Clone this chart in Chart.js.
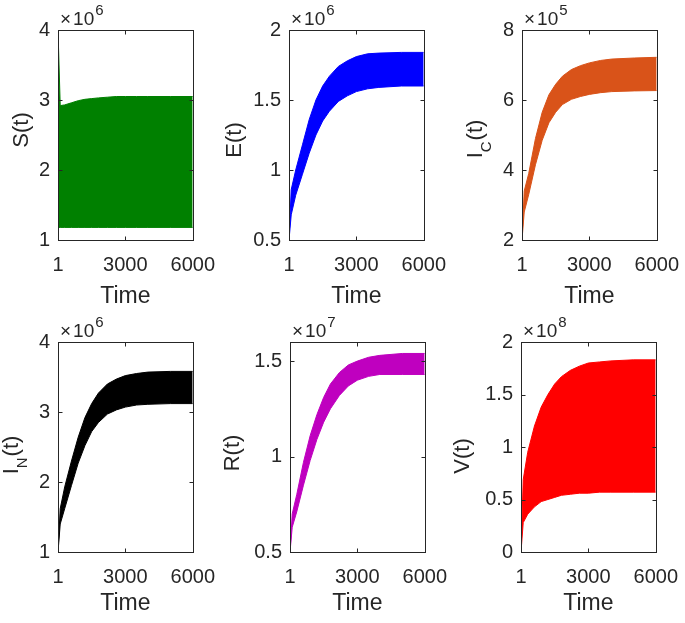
<!DOCTYPE html>
<html>
<head>
<meta charset="utf-8">
<script src="https://cdn.jsdelivr.net/npm/chart.js@4.4.1/dist/chart.umd.min.js"></script>
<style>
body { margin: 0; background: #fff; width: 685px; height: 623px; overflow: hidden; position: relative; }
canvas { position: absolute; }
</style>
</head>
<body>
<canvas id="cS" width="250" height="310" style="left:-22px;top:0px"></canvas>
<canvas id="cE" width="250" height="310" style="left:209px;top:0px"></canvas>
<canvas id="cIc" width="250" height="310" style="left:442px;top:0px"></canvas>
<canvas id="cIn" width="250" height="310" style="left:-22px;top:312px"></canvas>
<canvas id="cR" width="250" height="310" style="left:210px;top:312px"></canvas>
<canvas id="cV" width="250" height="310" style="left:441px;top:312px"></canvas>
<script>
// time samples and tick labels
var time = [1, 100, 300, 600, 900, 1200, 1500, 1800, 2200, 2600, 3000, 3500, 4000, 5000, 6000];
var xTicks = [1, 3000, 6000];

// envelopes of the oscillating solutions (top / bottom of each band), axis units
var sUpper = [4, 2.92, 2.93, 2.96, 2.99, 3.01, 3.02, 3.03, 3.04, 3.05, 3.05, 3.05, 3.05, 3.05, 3.05];
var sLower = [1.18, 1.18, 1.18, 1.18, 1.18, 1.18, 1.18, 1.18, 1.18, 1.18, 1.18, 1.18, 1.18, 1.18, 1.18];
var eUpper = [0.5, 0.86, 1.0, 1.18, 1.36, 1.5, 1.6, 1.67, 1.74, 1.78, 1.81, 1.83, 1.835, 1.84, 1.84];
var eLower = [0.5, 0.68, 0.82, 0.97, 1.12, 1.25, 1.35, 1.42, 1.49, 1.53, 1.56, 1.58, 1.59, 1.6, 1.6];
var icUpper = [2, 3.4, 3.9, 4.9, 5.65, 6.15, 6.45, 6.68, 6.87, 6.98, 7.06, 7.13, 7.17, 7.2, 7.22];
var icLower = [2, 2.8, 3.3, 4.15, 4.85, 5.35, 5.65, 5.87, 6.02, 6.1, 6.16, 6.21, 6.24, 6.26, 6.27];
var inUpper = [1, 1.62, 1.93, 2.3, 2.64, 2.92, 3.12, 3.27, 3.4, 3.47, 3.52, 3.55, 3.57, 3.58, 3.58];
var inLower = [1, 1.4, 1.62, 1.95, 2.27, 2.52, 2.72, 2.85, 2.97, 3.03, 3.07, 3.1, 3.11, 3.12, 3.12];
var rUpper = [0.5, 0.7, 0.8, 0.97, 1.11, 1.22, 1.31, 1.38, 1.44, 1.48, 1.5, 1.52, 1.53, 1.54, 1.54];
var rLower = [0.5, 0.63, 0.71, 0.85, 0.98, 1.09, 1.18, 1.25, 1.32, 1.37, 1.4, 1.42, 1.43, 1.43, 1.43];
var vUpper = [0, 0.69, 0.95, 1.2, 1.38, 1.5, 1.6, 1.67, 1.73, 1.77, 1.8, 1.81, 1.82, 1.83, 1.83];
var vLower = [0, 0.28, 0.36, 0.43, 0.48, 0.5, 0.52, 0.54, 0.55, 0.56, 0.56, 0.57, 0.57, 0.57, 0.57];

// y ticks per panel
var sTicks = [1, 2, 3, 4];
var eTicks = [0.5, 1, 1.5, 2];
var icTicks = [2, 4, 6, 8];
var inTicks = [1, 2, 3, 4];
var rTicks = [0.5, 1, 1.5];
var vTicks = [0, 0.5, 1, 1.5, 2];

var FONT = '"Liberation Sans", Arial, Helvetica, sans-serif';
var AXC = '#262626';

var panels = [
    { id: 'cS', name: 'S', sub: '', exp: '6', color: '#008000', up: sUpper, lo: sLower, ticks: sTicks, min: 1, max: 4, lx: 50, dy: -5, tpad: 0 },
    { id: 'cE', name: 'E', sub: '', exp: '6', color: '#0000FF', up: eUpper, lo: eLower, ticks: eTicks, min: 0.5, max: 2, lx: 32, dy: 5, tpad: 0 },
    { id: 'cIc', name: 'I', sub: 'C', exp: '5', color: '#D95319', up: icUpper, lo: icLower, ticks: icTicks, min: 2, max: 8, lx: 40, dy: 4, tpad: 0 },
    { id: 'cIn', name: 'I', sub: 'N', exp: '6', color: '#000000', up: inUpper, lo: inLower, ticks: inTicks, min: 1, max: 4, lx: 40, dy: 8, tpad: 5 },
    { id: 'cR', name: 'R', sub: '', exp: '7', color: '#BF00BF', up: rUpper, lo: rLower, ticks: rTicks, min: 0.5, max: 1.6, lx: 29, dy: 6, tpad: 5 },
    { id: 'cV', name: 'V', sub: '', exp: '8', color: '#FF0000', up: vUpper, lo: vLower, ticks: vTicks, min: 0, max: 2, lx: 28, dy: 9, tpad: 5 }
];

// box, inward ticks, exponent and y label (MATLAB look)
var matlabAxes = {
    id: 'matlabAxes',
    afterDatasetsDraw: function (chart) {
        var p = chart.options.plugins.matlabAxes;
        var ctx = chart.ctx, a = chart.chartArea;
        var xs = chart.scales.x, ys = chart.scales.y;
        ctx.save();
        ctx.strokeStyle = AXC;
        ctx.lineWidth = 1;
        var l = Math.round(a.left) + 0.5, r = Math.round(a.right) + 0.5;
        var t = Math.round(a.top) + 0.5, b = Math.round(a.bottom) + 0.5;
        ctx.strokeRect(l, t, r - l, b - t);
        ctx.beginPath();
        xs.ticks.forEach(function (tk) {
            var px = Math.round(xs.getPixelForValue(tk.value)) + 0.5;
            ctx.moveTo(px, b); ctx.lineTo(px, b - 4);
            ctx.moveTo(px, t); ctx.lineTo(px, t + 4);
        });
        ys.ticks.forEach(function (tk) {
            var py = Math.round(ys.getPixelForValue(tk.value)) + 0.5;
            ctx.moveTo(l, py); ctx.lineTo(l + 4, py);
            ctx.moveTo(r, py); ctx.lineTo(r - 4, py);
        });
        ctx.stroke();

        // x10^n
        ctx.fillStyle = AXC;
        ctx.textBaseline = 'alphabetic';
        ctx.textAlign = 'left';
        ctx.font = '19px ' + FONT;
        ctx.fillText('\u00d7', a.left + 2, a.top - 5);
        var wx = ctx.measureText('\u00d7').width;
        ctx.fillText('10', a.left + 4 + wx, a.top - 5);
        var w10 = ctx.measureText('10').width;
        ctx.font = '15px ' + FONT;
        ctx.fillText(p.exp, a.left + 5 + wx + w10, a.top - 15);

        // y label with optional subscript
        ctx.translate(p.lx, (a.top + a.bottom) / 2 + p.dy);
        ctx.rotate(-Math.PI / 2);
        ctx.font = '22px ' + FONT;
        var w1 = ctx.measureText(p.name).width;
        var w3 = ctx.measureText('(t)').width;
        ctx.font = '15px ' + FONT;
        var w2 = p.sub ? ctx.measureText(p.sub).width + 1 : 0;
        var x0 = -(w1 + w2 + w3) / 2;
        ctx.font = '22px ' + FONT;
        ctx.fillText(p.name, x0, 0);
        if (p.sub) {
            ctx.font = '15px ' + FONT;
            ctx.fillText(p.sub, x0 + w1, 9);
            ctx.font = '22px ' + FONT;
        }
        ctx.fillText('(t)', x0 + w1 + w2, 0);
        ctx.restore();
    }
};

function pts(ys) {
    return time.map(function (t, i) { return { x: t, y: ys[i] }; });
}

panels.forEach(function (p) {
    var ctx = document.getElementById(p.id).getContext('2d');
    new Chart(ctx, {
        type: 'line',
        data: {
            datasets: [{
                data: pts(p.up),
                borderColor: p.color,
                backgroundColor: p.color,
                borderWidth: 1,
                pointRadius: 0,
                fill: '+1'
            }, {
                data: pts(p.lo),
                borderColor: p.color,
                backgroundColor: p.color,
                borderWidth: 1,
                pointRadius: 0,
                fill: false
            }]
        },
        options: {
            responsive: false,
            animation: false,
            devicePixelRatio: 1,
            layout: { padding: { left: 0, top: 30, right: 31, bottom: 0 } },
            plugins: {
                legend: { display: false },
                tooltip: { enabled: false },
                matlabAxes: { exp: p.exp, name: p.name, sub: p.sub, lx: p.lx, dy: p.dy }
            },
            scales: {
                x: {
                    type: 'linear',
                    min: 1,
                    max: 6000,
                    grid: { display: false, drawTicks: false },
                    border: { display: false },
                    afterBuildTicks: function (s) { s.ticks = xTicks.map(function (v) { return { value: v }; }); },
                    afterFit: function (s) { s.height = 70; },
                    ticks: {
                        padding: 13,
                        maxRotation: 0,
                        color: AXC,
                        font: { family: FONT, size: 20 },
                        callback: function (v) { return String(v); }
                    },
                    title: {
                        display: true,
                        text: 'Time',
                        color: AXC,
                        font: { family: FONT, size: 23 },
                        padding: { top: 0, bottom: p.tpad }
                    }
                },
                y: {
                    min: p.min,
                    max: p.max,
                    grid: { display: false, drawTicks: false },
                    border: { display: false },
                    afterBuildTicks: function (s) { s.ticks = p.ticks.map(function (v) { return { value: v }; }); },
                    afterFit: function (s) { s.width = 80; },
                    ticks: {
                        padding: 8,
                        color: AXC,
                        font: { family: FONT, size: 20 },
                        callback: function (v) { return String(v); }
                    }
                }
            }
        },
        plugins: [matlabAxes]
    });
});
</script>
</body>
</html>
